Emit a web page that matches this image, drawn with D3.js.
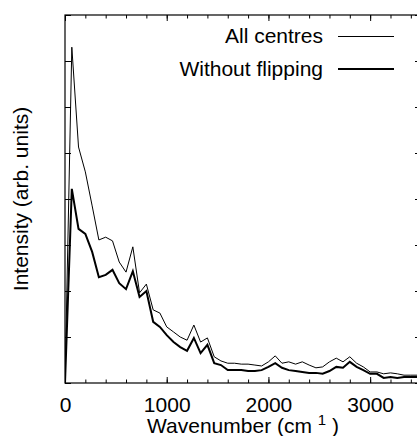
<!DOCTYPE html>
<html>
<head>
<meta charset="utf-8">
<script src="https://cdn.jsdelivr.net/npm/d3@7"></script>
<style>
  body { margin: 0; background: #fff; }
  svg { display: block; }
  text { font-family: "Liberation Sans", Arial, Helvetica, sans-serif; fill: #000; }
</style>
</head>
<body>
<svg id="chart" width="417" height="436"></svg>
<script>
// spectrum sampled every ~66.7 cm-1
var wavenumber = [0, 67, 133, 200, 267, 333, 400, 467, 533, 600, 667, 733, 800, 867, 933, 1000,
  1067, 1133, 1200, 1267, 1333, 1400, 1467, 1533, 1600, 1667, 1733, 1800, 1867, 1933, 2000,
  2067, 2133, 2200, 2267, 2333, 2400, 2467, 2533, 2600, 2667, 2733, 2800, 2867, 2933, 3000,
  3067, 3133, 3200, 3267, 3333, 3400, 3467, 3533];

var allCentres = [0, 7.30, 5.13, 4.59, 3.85, 3.11, 3.17, 3.09, 2.63, 2.41, 2.96, 1.96, 2.15, 1.59,
  1.52, 1.22, 1.11, 1.00, 0.93, 1.26, 0.89, 0.98, 0.57, 0.48, 0.43, 0.43, 0.41, 0.41, 0.39, 0.37,
  0.46, 0.59, 0.43, 0.46, 0.41, 0.46, 0.39, 0.33, 0.35, 0.46, 0.54, 0.46, 0.57, 0.43, 0.35, 0.24,
  0.24, 0.20, 0.22, 0.20, 0.17, 0.17, 0.17, 0.17];

var withoutFlipping = [0, 4.22, 3.35, 3.24, 2.85, 2.30, 2.35, 2.46, 2.17, 2.04, 2.43, 1.87, 2.00, 1.33,
  1.22, 1.04, 0.89, 0.78, 0.70, 0.98, 0.65, 0.83, 0.43, 0.39, 0.28, 0.28, 0.28, 0.26, 0.26, 0.28,
  0.35, 0.43, 0.33, 0.28, 0.26, 0.24, 0.22, 0.22, 0.20, 0.26, 0.35, 0.33, 0.46, 0.35, 0.28, 0.20,
  0.20, 0.11, 0.13, 0.11, 0.13, 0.13, 0.13, 0.13];

var seriesNames = ["All centres", "Without flipping"];
var xMajorTicks = [0, 1000, 2000, 3000];
var xMinorTicks = d3.range(0, 3501, 200);
var yTicks = [0, 1, 2, 3, 4, 5, 6, 7, 8];

var margin = { top: 15, right: -4, bottom: 53, left: 65 },
    W = 417, H = 436;

var x = d3.scaleLinear().domain([0, 3500]).range([margin.left, W - margin.right]);
var y = d3.scaleLinear().domain([0, 8]).range([H - margin.bottom, margin.top]);

var svg = d3.select("#chart");

svg.append("clipPath").attr("id", "plotclip")
  .append("rect")
  .attr("x", x(0)).attr("y", y(8))
  .attr("width", x(3500) - x(0)).attr("height", y(0) - y(8));

// axes, ticks pointing inward
function clean(g) { g.select(".domain").remove(); g.selectAll("line").attr("stroke", "#000"); }

var bottomMajor = svg.append("g").attr("transform", `translate(0,${y(0)})`)
  .call(d3.axisBottom(x).tickValues(xMajorTicks).tickSize(-6).tickFormat(d3.format("d")))
  .call(clean);
bottomMajor.selectAll("text")
  .attr("y", 29).attr("dy", null)
  .attr("font-size", 21);

svg.append("g").attr("transform", `translate(0,${y(0)})`)
  .call(d3.axisBottom(x).tickValues(xMinorTicks).tickSize(-3.5).tickFormat(""))
  .call(clean);

svg.append("g").attr("transform", `translate(0,${y(8)})`)
  .call(d3.axisTop(x).tickValues(xMajorTicks).tickSize(-6).tickFormat(""))
  .call(clean);
svg.append("g").attr("transform", `translate(0,${y(8)})`)
  .call(d3.axisTop(x).tickValues(xMinorTicks).tickSize(-3.5).tickFormat(""))
  .call(clean);

svg.append("g").attr("transform", `translate(${x(0)},0)`)
  .call(d3.axisLeft(y).tickValues(yTicks).tickSize(-6).tickFormat(""))
  .call(clean);
svg.append("g").attr("transform", `translate(${x(3500)},0)`)
  .call(d3.axisRight(y).tickValues(yTicks).tickSize(-6).tickFormat(""))
  .call(clean);

// frame
svg.append("rect")
  .attr("x", x(0)).attr("y", y(8))
  .attr("width", x(3500) - x(0)).attr("height", y(0) - y(8))
  .attr("fill", "none").attr("stroke", "#000").attr("stroke-width", 1.2);

// lines
var line = d3.line()
  .x((d, i) => x(wavenumber[i]))
  .y(d => y(d));

var plot = svg.append("g").attr("clip-path", "url(#plotclip)");
plot.append("path").datum(allCentres)
  .attr("fill", "none").attr("stroke", "#000").attr("stroke-width", 1)
  .attr("stroke-linejoin", "miter")
  .attr("d", line);
plot.append("path").datum(withoutFlipping)
  .attr("fill", "none").attr("stroke", "#000").attr("stroke-width", 2)
  .attr("stroke-linejoin", "miter")
  .attr("d", line);

// legend
var legend = svg.append("g");
[[seriesNames[0], 43, 36.5, 1], [seriesNames[1], 76, 69, 2]].forEach(function (r) {
  legend.append("text").attr("x", 323).attr("y", r[1])
    .attr("text-anchor", "end").attr("font-size", 21).text(r[0]);
  legend.append("line")
    .attr("x1", 338).attr("x2", 394).attr("y1", r[2]).attr("y2", r[2])
    .attr("stroke", "#000").attr("stroke-width", r[3]);
});

// axis titles
var xt = svg.append("text")
  .attr("x", (x(0) + x(3500)) / 2).attr("y", 433)
  .attr("text-anchor", "middle").attr("font-size", 21);
xt.append("tspan").text("Wavenumber (cm ");
xt.append("tspan").attr("font-size", 15).attr("dy", -8).text("1");
xt.append("tspan").attr("dy", 8).text(" )");

svg.append("text")
  .attr("transform", `translate(28,${(y(0) + y(8)) / 2}) rotate(-90)`)
  .attr("text-anchor", "middle").attr("font-size", 21)
  .text("Intensity (arb. units)");
</script>
</body>
</html>
